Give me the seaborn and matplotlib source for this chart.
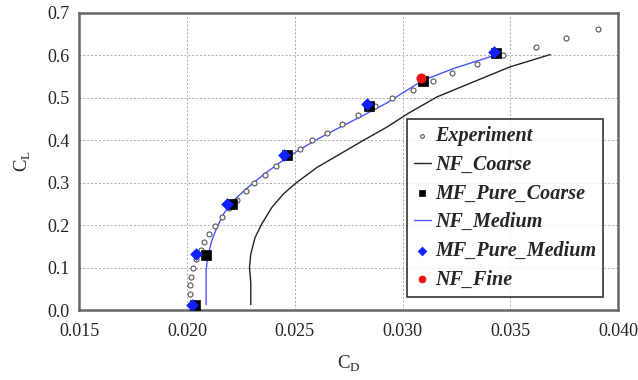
import matplotlib
matplotlib.use("Agg")
import matplotlib.pyplot as plt
import seaborn as sns
import pandas as pd

# ---- data ----
exp_cd = [0.02023, 0.02012, 0.02012, 0.02020, 0.02030, 0.02041, 0.02064, 0.02081,
          0.02103, 0.02131, 0.02162, 0.02197, 0.02234, 0.02273, 0.02312, 0.02363,
          0.02414, 0.02470, 0.02522, 0.02579, 0.02649, 0.02721, 0.02791, 0.02870,
          0.02950, 0.03050, 0.03139, 0.03229, 0.03347, 0.03468, 0.03618, 0.03759, 0.03906]
exp_cl = [0.010, 0.037, 0.058, 0.079, 0.100, 0.120, 0.141, 0.160,
          0.179, 0.199, 0.219, 0.240, 0.260, 0.280, 0.300, 0.319,
          0.339, 0.360, 0.380, 0.400, 0.418, 0.439, 0.459, 0.480,
          0.500, 0.519, 0.539, 0.559, 0.579, 0.602, 0.619, 0.640, 0.661]

nf_coarse_cd = [0.02296, 0.02296, 0.02290, 0.02296, 0.02316, 0.02347, 0.02394, 0.02448,
                0.02510, 0.02603, 0.02711, 0.02819, 0.02927, 0.03025, 0.03159, 0.03345,
                0.03499, 0.03685]
nf_coarse_cl = [0.013, 0.065, 0.100, 0.132, 0.171, 0.203, 0.242, 0.274,
                0.301, 0.336, 0.368, 0.400, 0.431, 0.463, 0.502, 0.541,
                0.573, 0.602]

mf_coarse_cd = [0.02038, 0.02088, 0.02211, 0.02463, 0.02845, 0.03094, 0.03434]
mf_coarse_cl = [0.011, 0.130, 0.250, 0.366, 0.481, 0.540, 0.605]

nf_medium_cd = [0.02089, 0.02089, 0.02095, 0.02115, 0.02139, 0.02169, 0.02216, 0.02278,
                0.02355, 0.02432, 0.02510, 0.02603, 0.02711, 0.02819, 0.02927, 0.03090,
                0.03236, 0.03427]
nf_medium_cl = [0.013, 0.092, 0.124, 0.163, 0.195, 0.226, 0.258, 0.287,
                0.319, 0.348, 0.374, 0.402, 0.431, 0.459, 0.488, 0.540,
                0.569, 0.600]

mf_medium_cd = [0.02025, 0.02041, 0.02185, 0.02452, 0.02834, 0.03426]
mf_medium_cl = [0.011, 0.132, 0.250, 0.366, 0.485, 0.608]

nf_fine_cd = [0.03086]
nf_fine_cl = [0.547]

x_ticks = [0.015, 0.020, 0.025, 0.030, 0.035, 0.040]
y_ticks = [0.0, 0.1, 0.2, 0.3, 0.4, 0.5, 0.6, 0.7]

# ---- plotting ----
sns.set_style("white")
plt.rcParams['font.family'] = ['Liberation Serif', 'DejaVu Serif']
plt.rcParams['mathtext.fontset'] = 'custom'
plt.rcParams['mathtext.rm'] = 'Liberation Serif'

fig = plt.figure(figsize=(6.38, 3.8), dpi=100)
ax = fig.add_axes([0.124, 0.184, 0.845, 0.782])

df_exp = pd.DataFrame({"CD": exp_cd, "CL": exp_cl})
df_nfc = pd.DataFrame({"CD": nf_coarse_cd, "CL": nf_coarse_cl})
df_mfc = pd.DataFrame({"CD": mf_coarse_cd, "CL": mf_coarse_cl})
df_nfm = pd.DataFrame({"CD": nf_medium_cd, "CL": nf_medium_cl})
df_mfm = pd.DataFrame({"CD": mf_medium_cd, "CL": mf_medium_cl})
df_nff = pd.DataFrame({"CD": nf_fine_cd, "CL": nf_fine_cl})

sns.scatterplot(data=df_exp, x="CD", y="CL", ax=ax, marker="o", s=13,
                facecolor="white", edgecolor="#555555", linewidth=0.8,
                label="Experiment", zorder=3)
sns.lineplot(data=df_nfc, x="CD", y="CL", ax=ax, sort=False, estimator=None,
             errorbar=None, color="#222222", linewidth=1.0, label="NF_Coarse", zorder=2)
sns.scatterplot(data=df_mfc, x="CD", y="CL", ax=ax, marker="s", s=45,
                color="black", edgecolor="black", linewidth=0.5,
                label="MF_Pure_Coarse", zorder=4)
sns.lineplot(data=df_nfm, x="CD", y="CL", ax=ax, sort=False, estimator=None,
             errorbar=None, color="#4a55ff", linewidth=1.0, label="NF_Medium", zorder=2)
sns.scatterplot(data=df_mfm, x="CD", y="CL", ax=ax, marker="D", s=35,
                color="#1020ff", edgecolor="#1020ff", linewidth=0.5,
                label="MF_Pure_Medium", zorder=5)
sns.scatterplot(data=df_nff, x="CD", y="CL", ax=ax, marker="o", s=45,
                color="#ee1111", edgecolor="#ee1111", linewidth=0.5,
                label="NF_Fine", zorder=6)

ax.set_xlim(0.015, 0.040)
ax.set_ylim(0.0, 0.7)
ax.set_xticks(x_ticks)
ax.set_yticks(y_ticks)
ax.set_xticklabels([f"{v:.3f}" for v in x_ticks])
ax.set_yticklabels([f"{v:.1f}" for v in y_ticks])
ax.tick_params(axis="both", length=0, labelsize=13, colors="#222222")
ax.tick_params(axis="x", pad=9)
ax.tick_params(axis="y", pad=7)
ax.grid(True, color="#aaaaaa", linestyle=(0, (2, 2)), linewidth=0.7)
for sp in ax.spines.values():
    sp.set_color("#666666")
    sp.set_linewidth(1.8)

ax.set_xlabel(r"C$_\mathrm{D}$", fontsize=13.5, labelpad=10)
ax.set_ylabel(r"C$_\mathrm{L}$", fontsize=13.5, labelpad=10)

leg = ax.legend(loc="upper left", bbox_to_anchor=(0.608, 0.642), borderaxespad=0,
                frameon=True, fancybox=False, edgecolor="black",
                prop={"family": "Liberation Serif", "style": "italic",
                      "weight": "bold", "size": 14.5},
                handlelength=0.85, handletextpad=0.2, labelspacing=0.43,
                borderpad=0.35, markerscale=0.75)
leg.get_frame().set_linewidth(1.2)
leg.set_zorder(10)

fig.savefig("out.png", dpi=100, facecolor="white")
